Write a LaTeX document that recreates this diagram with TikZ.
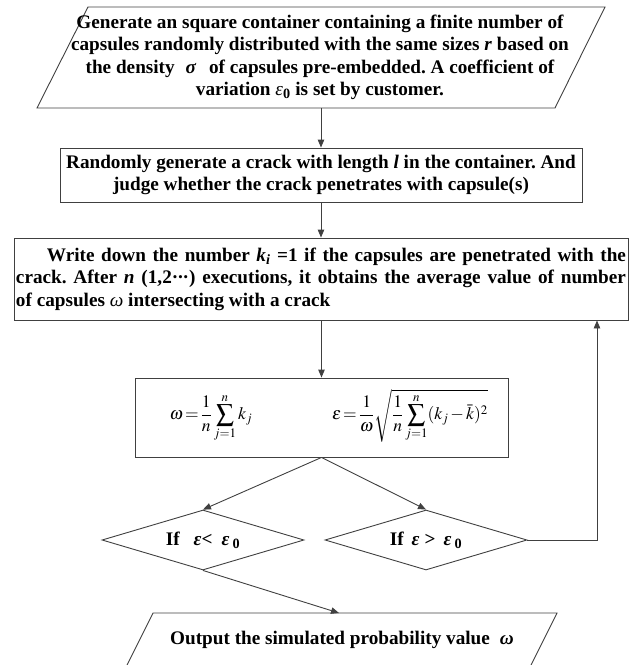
\documentclass[tikz,border=0pt]{standalone}
\usepackage{mathptmx}
\usepackage[no-math]{fontspec}
\setmainfont{Liberation Serif}
\usetikzlibrary{arrows.meta,shapes.geometric}
\definecolor{linegray}{RGB}{64,64,64}
\frenchspacing
\newcommand\mytightmath{\thickmuskip=2mu\relax\medmuskip=2mu\relax}
\tikzset{
  edge/.style={draw=linegray, line width=0.9pt},
  arr/.style={edge, -{Triangle[length=8pt,width=6.5pt]}},
  boldtxt/.style={font=\bfseries\fontsize{19.2}{22.5}\selectfont, inner sep=0pt},
  boxnode/.style={boldtxt, edge, rectangle},
  mathtxt/.style={inner sep=0pt, font=\fontsize{17.5}{21}\selectfont},
  ifnode/.style={boldtxt, edge, diamond, aspect=3.37, minimum width=202pt, minimum height=60pt},
}
\begin{document}
\begin{tikzpicture}[x=1pt,y=-1pt]
\useasboundingbox (0,0) rectangle (644,665);
% top parallelogram
\draw[edge] (88,7) -- (605,7) -- (555,108) -- (37,108) -- cycle;
\node[boldtxt, align=center, minimum height=101pt] (p1) at (320,57.5)
 {Generate an square container containing a finite number of\\
  capsules randomly distributed with the same sizes \textit{r} based on\\
  the density \hspace{6pt}\textit{σ}\hspace{8pt} of capsules pre-embedded. A coefficient of\\
  variation \textit{\mdseries ε}\textsubscript{0} is set by customer.};
% box 2
\node[boxnode, align=center, minimum width=522pt, minimum height=54pt] (b2) at (321,175)
 {Randomly generate a crack with length \textit{l} in the container. And\\
  judge whether the crack penetrates with capsule(s)};
% box 3
\node[boxnode, minimum width=614pt, minimum height=82pt] (b3) at (321,279)
 {\parbox{610pt}{%
  \hbox to 610pt{\hskip 31pt Write down the number \textit{k}\textsubscript{\textit{i}} =1 if the capsules are penetrated with the}%
  \hbox to 610pt{crack. After \textit{n} (1,2·\kern-1pt·\kern-1pt·) executions, it obtains the average value of number}%
  \hbox{of capsules \textit{\mdseries ω} intersecting with a crack}}};
% box 4
\node[edge, rectangle, minimum width=373pt, minimum height=79pt] (b4) at (321.5,417.5) {};
\node[mathtxt] (f1) at (211,418)
 {\mytightmath$\displaystyle \omega=\frac{1}{n}\sum_{j=1}^{n}k_j$};
\node[mathtxt] (f2) at (410,416)
 {\mytightmath$\displaystyle \varepsilon=\frac{1}{\omega}\sqrt{\frac{1}{n}\sum_{j=1}^{n}(k_j-\bar{k})^2}$};
% diamonds
\node[ifnode] (d1) at (203,540) {If\hspace{14pt}\textit{ε}<\hspace{9pt}\textit{ε}\,\textsubscript{0}};
\node[ifnode] (d2) at (426,540) {If\hspace{8pt}\textit{ε}\hspace{5pt}>\hspace{8pt}\textit{ε}\,\textsubscript{0}};
% output parallelogram
\draw[edge] (153,613) -- (557,613) -- (525,677) -- (121,677) -- cycle;
\node[boldtxt, minimum height=54pt] (out) at (342,640)
 {Output the simulated probability value\hspace{10pt}\textit{ω}};
\coordinate (outin) at (339,613);
\coordinate (loopc) at (597,540);
% connectors
\draw[arr] (p1.south -| b2.north) -- (b2.north);
\draw[arr] (b2.south) -- (b3.south |- b3.north);
\draw[arr] (b3.south -| b4.north) -- (b4.north);
\draw[arr] (b4.south) -- (d1.north);
\draw[arr] (b4.south) -- (d2.north);
\draw[arr] (d1.south) -- (outin);
\draw[arr] (d2.east) -- (loopc) -- (loopc |- b3.south);
\end{tikzpicture}
\end{document}
